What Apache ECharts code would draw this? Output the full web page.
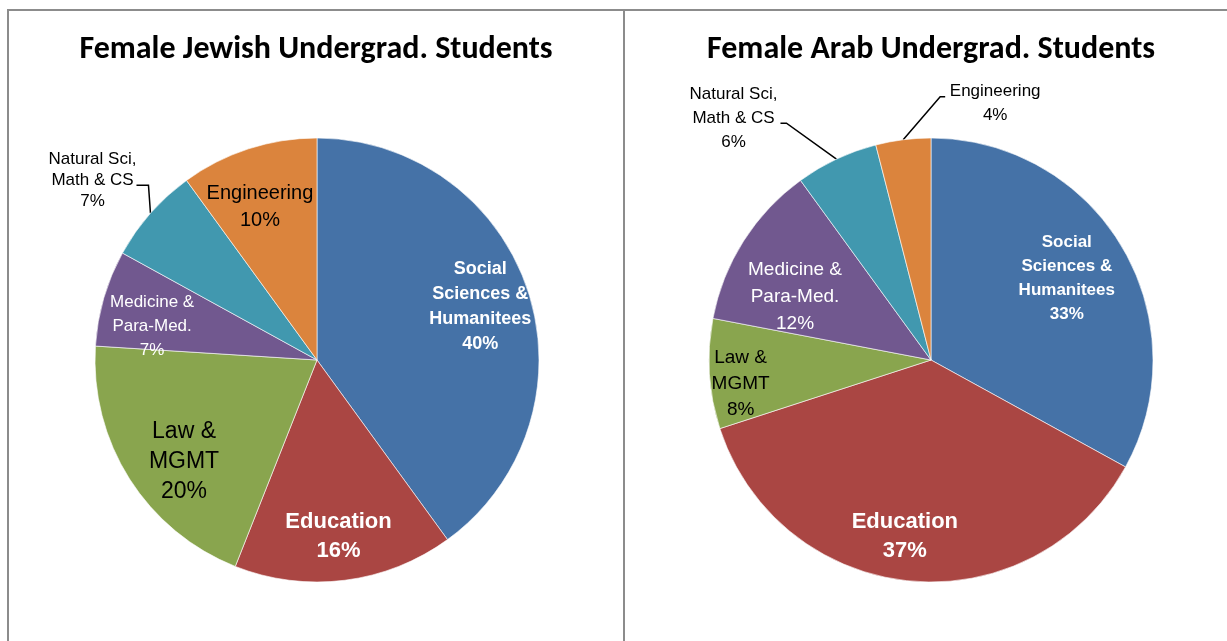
<!DOCTYPE html>
<html>
<head>
<meta charset="UTF-8">
<title>Female Undergrad. Students</title>
<script src="https://cdn.jsdelivr.net/npm/echarts@6/dist/echarts.min.js"></script>
<style>
body { margin: 0; overflow: hidden; background: #fff; width: 1227px; height: 641px; position: relative; }
.panel { position: absolute; top: 9px; height: 700px; border: 2px solid #8c8c8c; box-sizing: border-box; }
#left { left: 7px; width: 618px; }
#right { left: 623px; width: 616px; }
.chart { width: 100%; height: 100%; }
</style>
</head>
<body>
<div id="left" class="panel"><div id="chartLeft" class="chart"></div></div>
<div id="right" class="panel"><div id="chartRight" class="chart"></div></div>
<script>
// categories and shares (%)
var categories = ['Social Sciences & Humanitees', 'Education', 'Law & MGMT', 'Medicine & Para-Med.', 'Natural Sci, Math & CS', 'Engineering'];
var labelNames = ['Social\nSciences &\nHumanitees', 'Education', 'Law &\nMGMT', 'Medicine &\nPara-Med.', 'Natural Sci,\nMath & CS', 'Engineering'];
var jewishValues = [40, 16, 20, 7, 7, 10];
var arabValues = [33, 37, 8, 12, 6, 4];

var colors = ['#4572A7', '#AA4643', '#89A54E', '#71588F', '#4198AF', '#DB843D'];
var labelFont = '"Liberation Sans Narrow", "Liberation Sans", Arial, sans-serif';
var R = 222;

function labelText(p) {
	return labelNames[p.dataIndex] + '\n' + Math.round(p.percent) + '%';
}

function makeChart(el, title, values, center, insideStyles, nudges, outside) {
	var chart = echarts.init(document.getElementById(el));
	var baseData = [], labelData = [];
	for (var i = 0; i < values.length; i++) {
		var item = { name: categories[i], value: values[i], itemStyle: { color: colors[i] } };
		if (outside[i]) {
			item.label = {
				show: true, position: 'outside', color: '#000',
				fontFamily: labelFont, fontSize: outside[i].fontSize, lineHeight: outside[i].lineHeight
			};
			item.labelLine = { show: true, length: 10, length2: 10, lineStyle: { color: '#000', width: 1.5 } };
		}
		baseData.push(item);
		var ov = { name: categories[i], value: values[i] };
		if (insideStyles[i]) {
			ov.label = Object.assign({ show: true, fontFamily: labelFont }, insideStyles[i]);
		} else {
			ov.label = { show: false };
		}
		labelData.push(ov);
	}
	chart.setOption({
		animation: false,
		title: {
			text: title, left: 'center', top: 23, padding: 0,
			textStyle: { fontFamily: 'Calibri, Lato, "Open Sans", sans-serif', fontWeight: 'bold', fontSize: 32, color: '#000' }
		},
		series: [{
			type: 'pie',
			center: center,
			radius: R,
			startAngle: 90,
			clockwise: true,
			data: baseData,
			silent: true,
			itemStyle: { borderColor: 'rgba(255,255,255,0.6)', borderWidth: 1 },
			label: { show: false, formatter: labelText },
			labelLine: { show: false },
			labelLayout: function(params) {
				var g = outside[params.dataIndex];
				if (!g || !params.labelLinePoints) return {};
				var p = params.labelLinePoints[0];
				var elbow = [p[0] + g.elbow[0], p[1] + g.elbow[1]];
				var end = [elbow[0] + g.tail, elbow[1]];
				return {
					x: end[0] + g.shift[0], y: end[1] + g.shift[1],
					align: 'center', verticalAlign: 'middle',
					labelLinePoints: [p, elbow, end]
				};
			}
		}, {
			// transparent ring carrying the inside labels
			type: 'pie',
			center: center,
			radius: [R * 0.52, R],
			startAngle: 90,
			clockwise: true,
			silent: true,
			z: 3,
			itemStyle: { color: 'rgba(0,0,0,0)' },
			emphasis: { disabled: true },
			label: { position: 'inside', formatter: labelText },
			labelLine: { show: false },
			labelLayout: function(params) {
				var n = nudges[params.dataIndex];
				return n ? { dx: n[0], dy: n[1] } : {};
			},
			data: labelData
		}]
	});
	return chart;
}

makeChart('chartLeft', 'Female Jewish Undergrad. Students', jewishValues, [308, 349], [
	{ color: '#fff', fontWeight: 'bold', fontSize: 18, lineHeight: 25 },
	{ color: '#fff', fontWeight: 'bold', fontSize: 22, lineHeight: 29 },
	{ color: '#000', fontSize: 23, lineHeight: 30 },
	{ color: '#fff', fontSize: 17, lineHeight: 24 },
	null,
	{ color: '#000', fontSize: 20, lineHeight: 27 }
], {
	1: [0, 6], 2: [12, 10], 3: [0, 14], 5: [-4, 10]
}, {
	4: { fontSize: 17, lineHeight: 21, elbow: [-2, -28], tail: -12, shift: [-44, -5] }
});

makeChart('chartRight', 'Female Arab Undergrad. Students', arabValues, [306, 349], [
	{ color: '#fff', fontWeight: 'bold', fontSize: 17, lineHeight: 24 },
	{ color: '#fff', fontWeight: 'bold', fontSize: 22, lineHeight: 29 },
	{ color: '#000', fontSize: 19, lineHeight: 26 },
	{ color: '#fff', fontSize: 19, lineHeight: 27 },
	null,
	null
], {
	0: [-12, 6], 1: [-10, 5], 2: [-19, 13], 3: [9, 29]
}, {
	4: { fontSize: 17, lineHeight: 24, elbow: [-50, -36], tail: -6, shift: [-47, -5] },
	5: { fontSize: 17, lineHeight: 24, elbow: [37, -43], tail: 5, shift: [50, 7] }
});
</script>
</body>
</html>
